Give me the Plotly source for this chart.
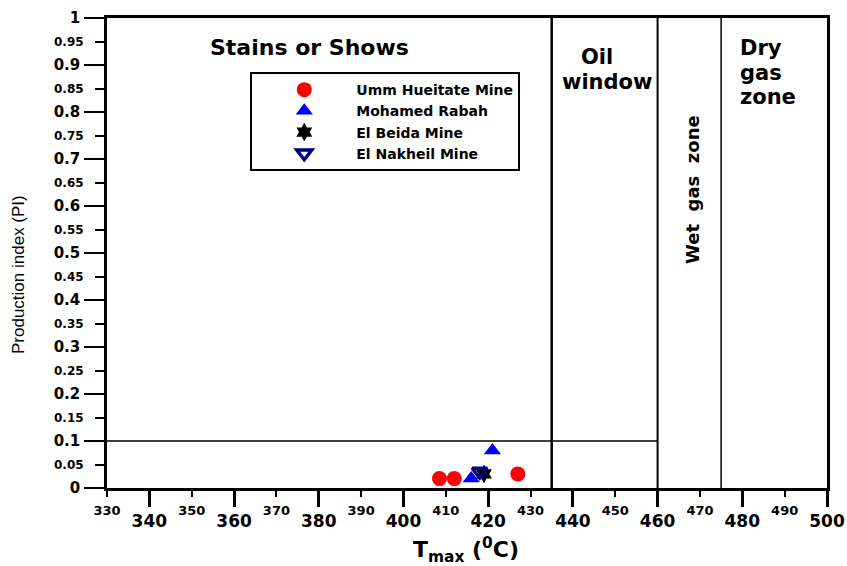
import plotly.graph_objects as go

# Rock-Eval maturity data: Tmax (°C) vs production index (PI)
umm_tmax = [408.5, 412, 427]
umm_pi = [0.02, 0.02, 0.03]
rabah_tmax = [416, 421]
rabah_pi = [0.02, 0.08]
beida_tmax = [419]
beida_pi = [0.03]
nakheil_tmax = [418]
nakheil_pi = [0.035]

# Maturity zone boundaries and the stains/shows PI threshold
zone_bounds = [435, 460, 475]
zone_widths = [2.5, 2, 1.5]
pi_threshold = 0.1
threshold_end = 460

x_range = [330, 500]
y_range = [0, 1]
x_major = list(range(340, 501, 20))
x_minor = list(range(330, 491, 20))
y_major = [round(0.1 * i, 1) for i in range(11)]
y_minor = [round(0.05 + 0.1 * i, 2) for i in range(10)]

FONT = "DejaVu Sans, Verdana, sans-serif"
FONT_REG = "Liberation Sans, Arial, sans-serif"

fig = go.Figure()

# Zone boundary lines
for xb, w in zip(zone_bounds, zone_widths):
    fig.add_trace(go.Scatter(x=[xb, xb], y=y_range, mode="lines",
                             line=dict(color="black", width=w),
                             showlegend=False, hoverinfo="skip"))
fig.add_trace(go.Scatter(x=[x_range[0], threshold_end], y=[pi_threshold, pi_threshold],
                         mode="lines", line=dict(color="black", width=1.5),
                         showlegend=False, hoverinfo="skip"))

# Sample groups
fig.add_trace(go.Scatter(x=umm_tmax, y=umm_pi, mode="markers", name="Umm Hueitate Mine",
                         marker=dict(symbol="circle", size=15, color="#ff0000")))
fig.add_trace(go.Scatter(x=rabah_tmax, y=rabah_pi, mode="markers", name="Mohamed Rabah",
                         marker=dict(symbol="triangle-up", size=15, color="#0000ff")))
fig.add_trace(go.Scatter(x=beida_tmax, y=beida_pi, mode="markers", name="El Beida Mine",
                         marker=dict(symbol="hexagram", size=14, color="black")))
fig.add_trace(go.Scatter(x=nakheil_tmax, y=nakheil_pi, mode="markers", name="El Nakheil Mine",
                         marker=dict(symbol="triangle-down-open", size=13, color="#000080",
                                     line=dict(width=3.5, color="#000080"))))

# Helper axes carrying the intermediate (smaller) tick labels
fig.add_trace(go.Scatter(x=[x_range[0]], y=[y_range[0]], xaxis="x2", yaxis="y2",
                         mode="markers", marker=dict(opacity=0),
                         showlegend=False, hoverinfo="skip"))

fig.update_layout(
    width=847, height=566,
    margin=dict(l=107, r=20, t=18, b=78, autoexpand=False),
    paper_bgcolor="white", plot_bgcolor="white",
    font=dict(family=FONT, color="black"),
    xaxis=dict(range=x_range, tickmode="array", tickvals=x_major,
               ticktext=[str(v) for v in x_major],
               ticks="outside", ticklen=16, tickwidth=2.5, tickcolor="black",
               tickfont=dict(size=17, weight="bold", family=FONT),
               ticklabelstandoff=0, automargin=False,
               showline=True, linewidth=2.5, linecolor="black", mirror=True,
               showgrid=False, zeroline=False),
    xaxis2=dict(range=x_range, overlaying="x", side="bottom", anchor="y",
                tickmode="array", tickvals=x_minor, ticktext=[str(v) for v in x_minor],
                ticks="outside", ticklen=8, tickwidth=2, tickcolor="black",
                tickfont=dict(size=13, weight="bold", family=FONT),
                ticklabelstandoff=2, automargin=False,
                showline=False, showgrid=False, zeroline=False),
    yaxis=dict(range=y_range, tickmode="array", tickvals=y_major,
               ticktext=[f"{v:g}" for v in y_major],
               ticks="outside", ticklen=20, tickwidth=2, tickcolor="black",
               tickfont=dict(size=15, weight="bold", family=FONT),
               ticklabelstandoff=1, automargin=False,
               showline=True, linewidth=2.5, linecolor="black", mirror=True,
               showgrid=False, zeroline=False),
    yaxis2=dict(range=y_range, overlaying="y", side="left", anchor="x",
                tickmode="array", tickvals=y_minor, ticktext=[f"{v:g}" for v in y_minor],
                ticks="outside", ticklen=11, tickwidth=2, tickcolor="black",
                tickfont=dict(size=12, weight="bold", family=FONT),
                ticklabelstandoff=9, automargin=False,
                showline=False, showgrid=False, zeroline=False),
    legend=dict(x=0.199, y=0.885, xanchor="left", yanchor="top",
                bgcolor="white", bordercolor="black", borderwidth=2,
                font=dict(size=14, weight="bold", family=FONT),
                itemwidth=94),
    showlegend=True,
)


def px(xp):
    return (xp - 107) / 720


def py(yp):
    return (488 - yp) / 470


def label(text, x, y, size, xanchor="center", angle=0, family=FONT):
    fig.add_annotation(text=text, x=px(x), y=py(y), xref="paper", yref="paper",
                       xanchor=xanchor, yanchor="middle", textangle=angle,
                       showarrow=False, font=dict(size=size, family=family, color="black"))


label("<b>Stains or Shows</b>", 309, 48, 22)
label("<b>Oil</b>", 597, 57, 21)
label("<b>window</b>", 607, 82, 21)
label("<b>Wet  gas  zone</b>", 692, 190, 18, angle=-90)
label("<b>Dry</b>", 738, 48, 21, xanchor="left")
label("<b>gas</b>", 738, 73, 21, xanchor="left")
label("<b>zone</b>", 738, 97, 21, xanchor="left")
label("<b>T<sub>max</sub> (<sup>0</sup>C)</b>", 466, 550, 22)
label("Production index (PI)", 18, 275, 17, angle=-90, family=FONT_REG)

fig.write_html("out.html")
